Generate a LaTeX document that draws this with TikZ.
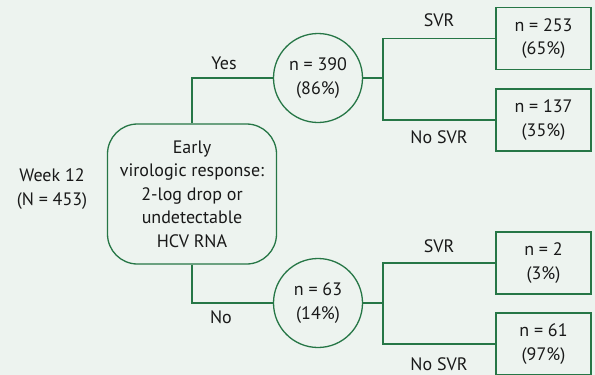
\documentclass[tikz,border=0pt]{standalone}
\usepackage{fontspec}
\setmainfont{PT Sans}
\usepackage{tikz}
\usetikzlibrary{positioning}
\definecolor{panelbg}{RGB}{237,243,239}
\definecolor{treegreen}{RGB}{38,118,70}

\begin{document}
\begin{tikzpicture}[
  x=1pt, y=-1pt,
  every node/.style={font=\fontsize{18}{23.5}\selectfont, text=black!90, align=center},
  decision/.style={rectangle, draw=treegreen, line width=1.3pt, rounded corners=30pt,
                   minimum width=169pt, minimum height=140pt},
  split/.style={circle, draw=treegreen, line width=1.3pt, minimum size=89pt,
                inner sep=0pt},
  outcome/.style={rectangle, draw=treegreen, line width=1.3pt, minimum width=95pt,
                  minimum height=62pt},
  link/.style={draw=treegreen, line width=1.3pt}
]
% Background panel
\fill[panelbg] (0,0) rectangle (595,375);
\useasboundingbox (0,0) rectangle (595,375);
% Start of the tree
\node (week) at (52,189) {Week 12\\(N = 453)};
\node[decision] (erv) at (192,194)
  {Early\\virologic response:\\2-log drop or\\undetectable\\HCV RNA};
% Responders / non-responders
\node[split] (yes) at (318,78)  {n = 390\\(86\%)};
\node[split] (no)  at (318,303) {n = 63\\(14\%)};
\draw[link] (erv.north) |- (yes.west);
\draw[link] (erv.south) |- (no.west);
\node (yeslbl) at (224,63)  {Yes};
\node (nolbl)  at (221,317) {No};
% Outcomes at week 12 = yes
\coordinate (jyes) at (383,78);
\node[outcome] (svr1)   at (543.5,38.5)  {n = 253\\(65\%)};
\node[outcome] (nosvr1) at (543.5,120)   {n = 137\\(35\%)};
\draw[link] (yes.east) -- (jyes) |- (svr1.west);
\draw[link] (jyes) |- (nosvr1.west);
\node (svrlbl1)   at (439,20)  {SVR};
\node (nosvrlbl1) at (439,137) {No SVR};
% Outcomes at week 12 = no
\coordinate (jno) at (383,303);
\node[outcome] (svr2)   at (543.5,263)   {n = 2\\(3\%)};
\node[outcome] (nosvr2) at (543.5,344)   {n = 61\\(97\%)};
\draw[link] (no.east) -- (jno) |- (svr2.west);
\draw[link] (jno) |- (nosvr2.west);
\node (svrlbl2)   at (439,246) {SVR};
\node (nosvrlbl2) at (439,364) {No SVR};
\end{tikzpicture}
\end{document}
